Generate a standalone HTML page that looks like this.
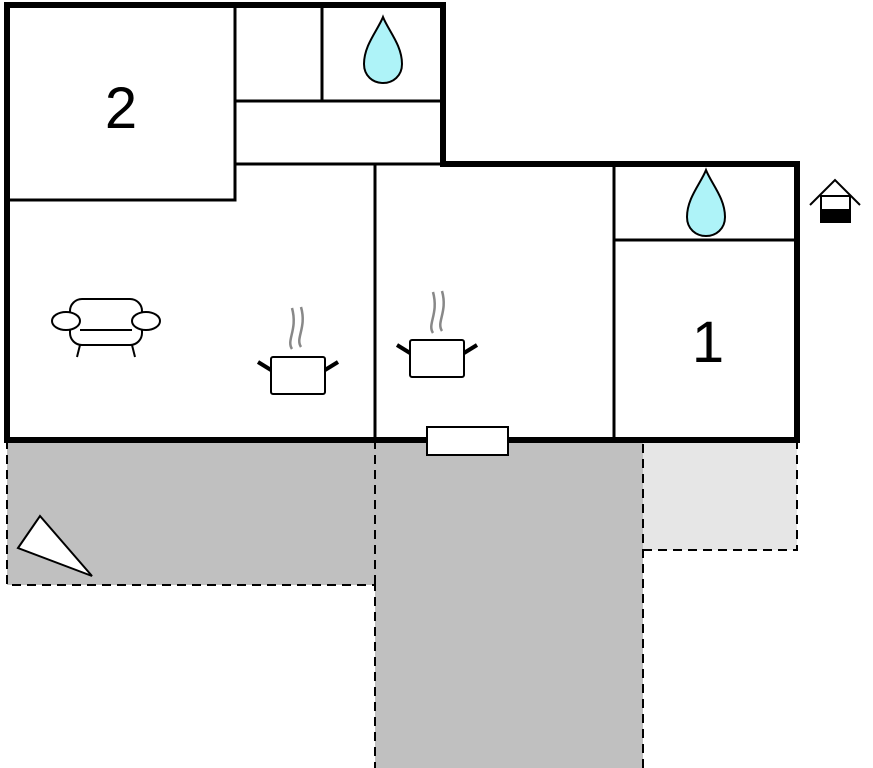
<!DOCTYPE html>
<html><head><style>body{margin:0;background:#fff}svg{display:block}</style></head><body>
<svg width="873" height="768" viewBox="0 0 873 768" xmlns="http://www.w3.org/2000/svg" font-family="Liberation Sans, sans-serif">
<!-- outdoor areas -->
<rect x="7" y="440" width="368" height="145" fill="#c0c0c0"/>
<rect x="375" y="440" width="268" height="328" fill="#c0c0c0"/>
<rect x="643" y="440" width="154" height="110" fill="#e6e6e6"/>
<g stroke="#000" stroke-width="2" stroke-dasharray="9,6" fill="none">
<path d="M7 440 V585 H375 V768"/>
<path d="M375 440 V585"/>
<path d="M643 768 V440"/>
<path d="M643 550 H797 V440"/>
</g>
<!-- inner walls -->
<g stroke="#000" stroke-width="3" fill="none">
<path d="M7 200 H235 V5"/>
<path d="M235 101 H443"/>
<path d="M322 5 V101"/>
<path d="M235 164 H443"/>
<path d="M375 164 V440"/>
<path d="M614 164 V440"/>
<path d="M614 240 H797"/>
</g>
<!-- outer walls -->
<path d="M7 5 H443 V164 H797 V440 H7 Z" stroke="#000" stroke-width="6" fill="none"/>
<!-- window -->
<rect x="427" y="427" width="81" height="28" fill="#fff" stroke="#000" stroke-width="2"/>
<!-- labels -->
<text x="121" y="128" font-size="58" text-anchor="middle">2</text>
<text x="708" y="362" font-size="58" text-anchor="middle">1</text>
<!-- drops -->
<path d="M383 17 C378 30 364 45 364 64 C364 76 373 83 383 83 C393 83 402 76 402 64 C402 45 388 30 383 17Z" fill="#aef3f8" stroke="#000" stroke-width="2"/>
<path d="M706 170 C701 183 687 198 687 217 C687 229 696 236 706 236 C716 236 725 229 725 217 C725 198 711 183 706 170Z" fill="#aef3f8" stroke="#000" stroke-width="2"/>
<!-- house icon -->
<path d="M810 205 L835 180 L860 205" stroke="#000" stroke-width="2" fill="none"/>
<rect x="821" y="196" width="29" height="26" fill="#fff" stroke="#000" stroke-width="2"/>
<rect x="821" y="209" width="29" height="14" fill="#000"/>
<!-- sofa -->
<g stroke="#000" stroke-width="2" fill="#fff">
<rect x="70" y="299" width="72" height="46" rx="12"/>
<ellipse cx="66" cy="321" rx="14" ry="9"/>
<ellipse cx="146" cy="321" rx="14" ry="9"/>
<path d="M80 345 L77 357 M132 345 L135 357" fill="none"/>
<path d="M80 330 H132" fill="none"/>
</g>
<!-- pots -->
<g>
<path d="M292 349 C286 340 298 330 292 308 M301 347 C295 338 307 328 301 307" stroke="#888" stroke-width="2.5" fill="none"/>
<rect x="271" y="357" width="54" height="37" rx="2" fill="#fff" stroke="#000" stroke-width="2"/>
<path d="M271 370 L258 362 M325 370 L338 362" stroke="#000" stroke-width="4"/>
<path d="M433 333 C427 324 439 314 433 292 M442 331 C436 322 448 312 442 291" stroke="#888" stroke-width="2.5" fill="none"/>
<rect x="410" y="340" width="54" height="37" rx="2" fill="#fff" stroke="#000" stroke-width="2"/>
<path d="M410 353 L397 345 M464 353 L477 345" stroke="#000" stroke-width="4"/>
</g>
<!-- north triangle -->
<path d="M18 548 L40 516 L92 576 Z" fill="#fff" stroke="#000" stroke-width="2"/>
</svg>
</body></html>
